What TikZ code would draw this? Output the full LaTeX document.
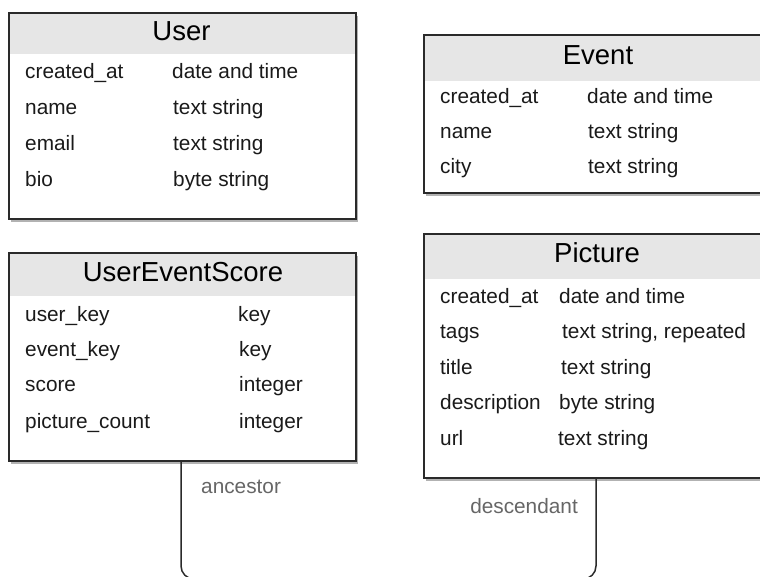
\documentclass[tikz,border=0pt]{standalone}
\usepackage{fontspec}
\setmainfont{Liberation Sans}
\usetikzlibrary{shadows}
\definecolor{hdr}{HTML}{E6E6E6}
\definecolor{edge}{HTML}{2A2A2A}
\definecolor{txt}{HTML}{1A1A1A}
\definecolor{lbl}{HTML}{666666}
\tikzset{
  ent/.style={draw=edge, line width=1.6pt, fill=white, rectangle, inner sep=0pt, anchor=north west,
    drop shadow={shadow xshift=2.5pt, shadow yshift=-3pt, fill=black!30, opacity=1},
    path picture={\fill[hdr] (path picture bounding box.north west) rectangle ([yshift=-#1]path picture bounding box.north east);}},
  ttl/.style={anchor=base, inner sep=0pt, font=\fontsize{27.5}{30}\selectfont, text=black},
  fld/.style={anchor=base west, inner sep=0pt, font=\fontsize{20.8}{24}\selectfont, text=txt},
  rel/.style={draw=edge, line width=1.5pt, rounded corners=13pt},
  lab/.style={inner sep=0pt, font=\fontsize{20.8}{24}\selectfont, text=lbl}
}
\begin{document}
\begin{tikzpicture}[x=1pt,y=-1pt]
\useasboundingbox (0,0) rectangle (760,577);
% User
\node[ent=41pt, minimum width=347pt, minimum height=206pt] (user) at (8,12) {};
\node[ttl] (userT) at (181.5,41) {User};
\node[fld] (u1a) at (25,79) {created\_at};
\node[fld] (u1b) at (172,79) {date and time};
\node[fld] (u2a) at (25,115) {name};
\node[fld] (u2b) at (173,115) {text string};
\node[fld] (u3a) at (25,151) {email};
\node[fld] (u3b) at (173,151) {text string};
\node[fld] (u4a) at (25,187) {bio};
\node[fld] (u4b) at (173,187) {byte string};
% Event
\node[ent=46pt, minimum width=352pt, minimum height=158pt] (event) at (423,34) {};
\node[ttl] (eventT) at (598,65) {Event};
\node[fld] (e1a) at (440,104) {created\_at};
\node[fld] (e1b) at (587,104) {date and time};
\node[fld] (e2a) at (440,139) {name};
\node[fld] (e2b) at (588,139) {text string};
\node[fld] (e3a) at (440,174) {city};
\node[fld] (e3b) at (588,174) {text string};
% UserEventScore
\node[ent=43pt, minimum width=347pt, minimum height=208pt] (ues) at (8,252) {};
\node[ttl] (uesT) at (183,282) {UserEventScore};
\node[fld] (s1a) at (25,321) {user\_key};
\node[fld] (s1b) at (238,321) {key};
\node[fld] (s2a) at (25,356) {event\_key};
\node[fld] (s2b) at (239,356) {key};
\node[fld] (s3a) at (25,391) {score};
\node[fld] (s3b) at (239,391) {integer};
\node[fld] (s4a) at (25,428) {picture\_count};
\node[fld] (s4b) at (239,428) {integer};
% Picture
\node[ent=45pt, minimum width=352pt, minimum height=244pt] (picture) at (423,233) {};
\node[ttl] (pictureT) at (597,263) {Picture};
\node[fld] (p1a) at (440,303) {created\_at};
\node[fld] (p1b) at (559,303) {date and time};
\node[fld] (p2a) at (440,338) {tags};
\node[fld] (p2b) at (562,338) {text string, repeated};
\node[fld] (p3a) at (440,374) {title};
\node[fld] (p3b) at (561,374) {text string};
\node[fld] (p4a) at (440,409) {description};
\node[fld] (p4b) at (559,409) {byte string};
\node[fld] (p5a) at (440,445) {url};
\node[fld] (p5b) at (558,445) {text string};
% relation
\coordinate (ca) at (181,579);
\coordinate (cd) at (596,579);
\draw[rel] (ues.south -| ca) -- (ca) -- (cd) -- (picture.south -| cd);
\node[lab, anchor=base west] (anc) at (201,493) {ancestor};
\node[lab, anchor=base east] (desc) at (578,513) {descendant};
\end{tikzpicture}
\end{document}
